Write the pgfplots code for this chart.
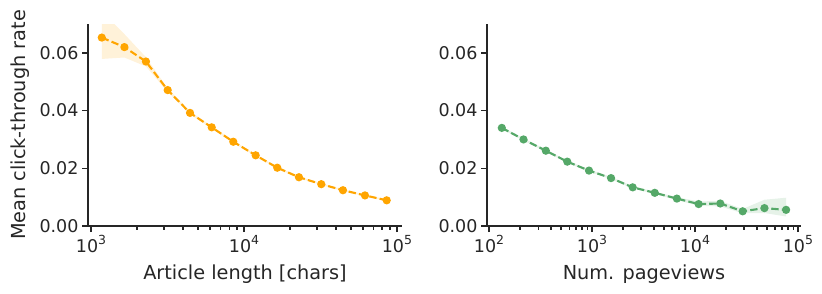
\documentclass[border=0pt]{standalone}
\usepackage{fontspec}
\setmainfont{DejaVu Sans}
\usepackage{pgfplots}
\pgfplotsset{compat=1.18}
\usepackage{pgfplotstable}
\usepgfplotslibrary{fillbetween}
\definecolor{spine}{HTML}{262626}
\definecolor{myorange}{HTML}{FFA500}
\definecolor{mygreen}{HTML}{55A868}
\newcommand{\expo}[1]{\raisebox{0.42em}{\fontsize{12.5}{13}\selectfont #1}}

\pgfplotstableread{
x y lo hi
1175 0.0653 0.0579 0.0745
1652 0.0620 0.0584 0.0665
2285 0.0570 0.0553 0.0585
3170 0.0471 0.0465 0.0477
4436 0.0392 0.0387 0.0397
6150 0.0342 0.0338 0.0346
8510 0.0292 0.0288 0.0296
11920 0.0245 0.0242 0.0248
16500 0.0202 0.0199 0.0205
22870 0.0169 0.0166 0.0172
32000 0.0145 0.0142 0.0148
44350 0.0124 0.0121 0.0127
61800 0.0106 0.0103 0.0109
85700 0.0089 0.0086 0.0092
}\lengthdata

\pgfplotstableread{
x y lo hi
133 0.0340 0.0336 0.0344
216 0.0300 0.0296 0.0304
356 0.0261 0.0257 0.0265
575 0.0223 0.0219 0.0227
935 0.0192 0.0188 0.0196
1531 0.0166 0.0162 0.0170
2485 0.0134 0.0130 0.0138
4070 0.0115 0.0111 0.0119
6670 0.0095 0.0090 0.0100
10850 0.0076 0.0070 0.0085
17620 0.0078 0.0068 0.0087
29060 0.0051 0.0044 0.0059
47300 0.0062 0.0045 0.0091
76800 0.0056 0.0033 0.0098
}\viewdata

\pgfplotsset{
  every axis/.append style={
    scale only axis, width=314pt, height=202pt,
    ymin=0, ymax=0.07,
    axis x line*=bottom, axis y line*=left,
    axis line style={spine, line width=1.3pt, -},
    every tick/.style={spine, line width=1.3pt},
    major tick length=6pt, minor tick length=3.8pt,
    tick align=outside,
    scaled y ticks=false,
    ytick={0,0.02,0.04,0.06}, yticklabels={0.00,0.02,0.04,0.06},
    ticklabel style={font=\fontsize{17.5}{20}\selectfont, text=spine},
    label style={font=\fontsize{19.3}{23}\selectfont, text=spine},
    xlabel style={at={(axis description cs:0.5,-0.2673)}, anchor=base},
    ylabel style={at={(axis description cs:-0.1975,0.5)}, anchor=base},
  },
}
\tikzset{
  mycurve/.style={#1, line width=2.1pt, dash pattern=on 7.4pt off 3.2pt,
    mark=*, mark size=3pt, mark options={solid, fill=#1, draw=#1}},
}

\begin{document}
\begin{tikzpicture}
\begin{semilogxaxis}[log basis x=10, xmin=955, xmax=107900,
  xtick={1000,10000,100000},
  minor xtick={2000,3000,4000,5000,6000,7000,8000,9000,20000,30000,40000,50000,60000,70000,80000,90000},
  xticklabel={10\expo{\pgfmathparse{int(round(\tick))}\pgfmathresult}},
  xlabel={Article length [chars]}, ylabel={Mean click-through rate}]
  \addplot[draw=none, name path=A, forget plot] table[x=x, y=hi] {\lengthdata};
  \addplot[draw=none, name path=B, forget plot] table[x=x, y=lo] {\lengthdata};
  \addplot[myorange, fill opacity=0.15, draw opacity=0.2] fill between[of=A and B];
  \addplot[mycurve=myorange] table[x=x, y=y] {\lengthdata};
\end{semilogxaxis}
\begin{semilogxaxis}[log basis x=10, at={(399pt,0pt)}, xmin=95.5, xmax=107150,
  xtick={100,1000,10000,100000},
  minor xtick={200,300,400,500,600,700,800,900,2000,3000,4000,5000,6000,7000,8000,9000,20000,30000,40000,50000,60000,70000,80000,90000},
  xticklabel={10\expo{\pgfmathparse{int(round(\tick))}\pgfmathresult}},
  xlabel={Num. pageviews}]
  \addplot[draw=none, name path=C, forget plot] table[x=x, y=hi] {\viewdata};
  \addplot[draw=none, name path=D, forget plot] table[x=x, y=lo] {\viewdata};
  \addplot[mygreen, fill opacity=0.15, draw opacity=0.2] fill between[of=C and D];
  \addplot[mycurve=mygreen] table[x=x, y=y] {\viewdata};
\end{semilogxaxis}
\path (-88pt,-67pt) rectangle (734pt,226pt);
\end{tikzpicture}
\end{document}
